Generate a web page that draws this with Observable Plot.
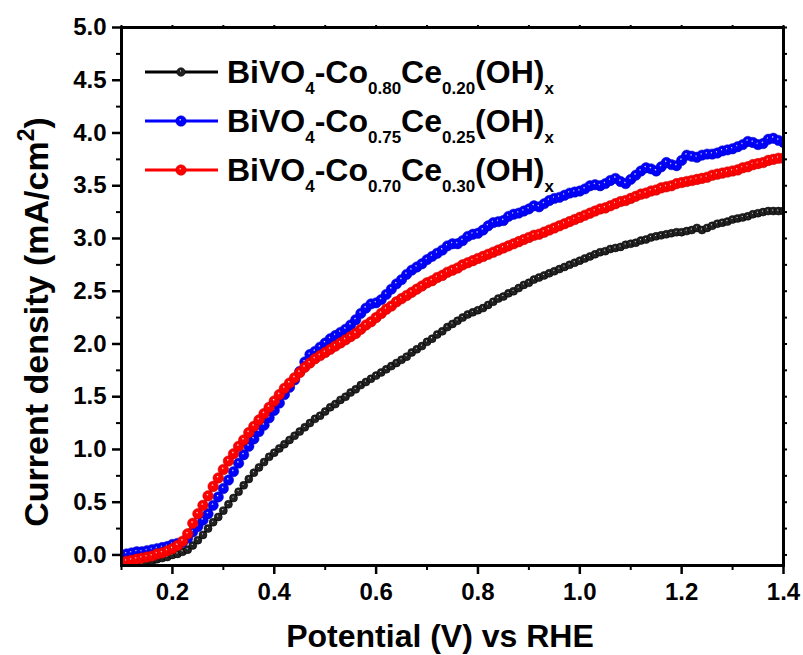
<!DOCTYPE html>
<html><head><meta charset="utf-8">
<script src="https://cdn.jsdelivr.net/npm/d3@7"></script>
<script src="https://cdn.jsdelivr.net/npm/@observablehq/plot@0.6"></script>
<style>
html,body{margin:0;padding:0;background:#fff;}
#chart svg{display:block;}
</style>
</head><body>
<div id="chart"></div>
<script>
// ---------------- data ----------------
const potential = d3.range(131).map(i => +(0.10 + i * 0.01).toFixed(2)); // 0.10 ... 1.40 V vs RHE

const coFrac = ["0.80", "0.75", "0.70"];
const ceFrac = ["0.20", "0.25", "0.30"];
const seriesColors = ["#000000", "#0000ff", "#ff0000"];

const j_Co080 = [
 -0.13,-0.12,-0.11,-0.10,-0.09,-0.07,-0.06,-0.04,-0.03,-0.02,
  0.00, 0.01, 0.03, 0.05, 0.09, 0.14, 0.19, 0.25, 0.31, 0.36,
  0.42, 0.48, 0.54, 0.60, 0.66, 0.72, 0.78, 0.83, 0.88, 0.93,
  0.97, 1.01, 1.05, 1.09, 1.13, 1.17, 1.21, 1.25, 1.29, 1.32,
  1.36, 1.40, 1.43, 1.47, 1.50, 1.54, 1.57, 1.61, 1.64, 1.67,
  1.70, 1.73, 1.76, 1.79, 1.82, 1.85, 1.88, 1.92, 1.95, 1.98,
  2.02, 2.05, 2.09, 2.12, 2.16, 2.19, 2.22, 2.25, 2.28, 2.30,
  2.32, 2.34, 2.37, 2.40, 2.43, 2.45, 2.48, 2.50, 2.53, 2.56,
  2.58, 2.61, 2.63, 2.65, 2.67, 2.69, 2.71, 2.73, 2.75, 2.77,
  2.79, 2.81, 2.83, 2.85, 2.87, 2.88, 2.90, 2.91, 2.92, 2.94,
  2.95, 2.96, 2.98, 2.99, 3.01, 3.02, 3.03, 3.04, 3.05, 3.06,
  3.06, 3.07, 3.08, 3.10, 3.08, 3.10, 3.12, 3.14, 3.15, 3.16,
  3.18, 3.19, 3.20, 3.21, 3.23, 3.24, 3.25, 3.26, 3.26, 3.26,
  3.26
];
const j_Co075 = [
  0.00, 0.01, 0.02, 0.03, 0.03, 0.04, 0.05, 0.06, 0.07, 0.08,
  0.10, 0.11, 0.12, 0.16, 0.22, 0.27, 0.33, 0.39, 0.47, 0.55,
  0.63, 0.71, 0.79, 0.87, 0.95, 1.03, 1.10, 1.17, 1.23, 1.30,
  1.37, 1.44, 1.52, 1.59, 1.66, 1.74, 1.83, 1.90, 1.93, 1.97,
  2.01, 2.05, 2.08, 2.11, 2.14, 2.18, 2.23, 2.29, 2.34, 2.38,
  2.39, 2.42, 2.47, 2.52, 2.57, 2.61, 2.66, 2.70, 2.73, 2.76,
  2.80, 2.83, 2.86, 2.89, 2.93, 2.95, 2.95, 2.98, 3.02, 3.04,
  3.05, 3.08, 3.12, 3.15, 3.16, 3.17, 3.21, 3.23, 3.24, 3.26,
  3.28, 3.31, 3.30, 3.33, 3.36, 3.38, 3.39, 3.41, 3.43, 3.44,
  3.45, 3.47, 3.50, 3.51, 3.50, 3.52, 3.55, 3.57, 3.54, 3.52,
  3.56, 3.60, 3.64, 3.67, 3.66, 3.64, 3.68, 3.72, 3.70, 3.69,
  3.74, 3.79, 3.78, 3.77, 3.79, 3.80, 3.80, 3.81, 3.83, 3.84,
  3.85, 3.87, 3.89, 3.92, 3.91, 3.89, 3.90, 3.94, 3.95, 3.93,
  3.91
];
const j_Co070 = [
 -0.07,-0.06,-0.05,-0.04,-0.03,-0.02,-0.01, 0.01, 0.02, 0.04,
  0.06, 0.09, 0.13, 0.20, 0.30, 0.39, 0.47, 0.56, 0.65, 0.73,
  0.81, 0.89, 0.96, 1.03, 1.09, 1.16, 1.22, 1.28, 1.34, 1.40,
  1.46, 1.52, 1.58, 1.63, 1.68, 1.73, 1.78, 1.82, 1.86, 1.89,
  1.92, 1.95, 1.98, 2.01, 2.04, 2.07, 2.10, 2.14, 2.18, 2.21,
  2.25, 2.29, 2.33, 2.36, 2.40, 2.43, 2.46, 2.49, 2.52, 2.55,
  2.58, 2.60, 2.63, 2.65, 2.68, 2.70, 2.72, 2.75, 2.77, 2.79,
  2.81, 2.83, 2.85, 2.87, 2.89, 2.91, 2.93, 2.95, 2.97, 2.99,
  3.01, 3.03, 3.04, 3.06, 3.08, 3.10, 3.12, 3.14, 3.16, 3.18,
  3.20, 3.22, 3.24, 3.26, 3.28, 3.29, 3.31, 3.33, 3.35, 3.36,
  3.38, 3.40, 3.42, 3.43, 3.45, 3.46, 3.48, 3.49, 3.50, 3.52,
  3.53, 3.54, 3.55, 3.56, 3.57, 3.58, 3.60, 3.61, 3.62, 3.63,
  3.64, 3.65, 3.67, 3.68, 3.70, 3.71, 3.72, 3.74, 3.75, 3.76,
  3.76
];

const xTicks = [0.2, 0.4, 0.6, 0.8, 1.0, 1.2, 1.4];
const xMinor = [0.1, 0.3, 0.5, 0.7, 0.9, 1.1, 1.3];
const yTicks = [0.0, 0.5, 1.0, 1.5, 2.0, 2.5, 3.0, 3.5, 4.0, 4.5, 5.0];
const yMinor = [0.25, 0.75, 1.25, 1.75, 2.25, 2.75, 3.25, 3.75, 4.25, 4.75];

// ------------- build table -------------
const seriesValues = [j_Co080, j_Co075, j_Co070];
const tables = seriesValues.map((vals, s) => vals.map((j, i) => ({x: potential[i], y: j, s})));
const radii = [4.0, 5.2, 5.3];
const grads = ["url(#gBlack)", "url(#gBlue)", "url(#gRed)"];
const rims = ["#000", "#0000c0", "#d00000"];

const FONT = "'Liberation Sans', Arial, Helvetica, sans-serif";

const marks = [];
tables.forEach((data, s) => {
  marks.push(Plot.line(data, {x: "x", y: "y", stroke: seriesColors[s], strokeWidth: 2.5, clip: true}));
  marks.push(Plot.dot(data, {x: "x", y: "y", r: radii[s], fill: grads[s], stroke: rims[s], strokeWidth: 0.5, clip: true}));
});

const plot = Plot.plot({
  width: 803,
  height: 655,
  marginLeft: 121,
  marginRight: 20,
  marginTop: 27,
  marginBottom: 90,
  style: {fontFamily: FONT, fontWeight: "bold", color: "#000", background: "#fff", overflow: "visible"},
  x: {domain: [0.1, 1.4], label: null},
  y: {domain: [-0.1, 5.0], label: null},
  marks: [
    ...marks,
    Plot.frame({stroke: "#000", strokeWidth: 3}),
    Plot.axisX({ticks: xTicks, tickSize: 9, tickPadding: 8, tickFormat: d3.format(".1f"), fontSize: 24, strokeWidth: 2.5, label: null}),
    Plot.axisX({ticks: xMinor, tickSize: 5, tickFormat: () => "", strokeWidth: 2, label: null}),
    Plot.axisX({anchor: "top", ticks: [...xTicks, ...xMinor], tickSize: 3, tickFormat: () => "", strokeWidth: 2, label: null}),
    Plot.axisY({ticks: yTicks, tickSize: 9, tickPadding: 6, tickFormat: d3.format(".1f"), fontSize: 24, strokeWidth: 2.5, label: null}),
    Plot.axisY({ticks: yMinor, tickSize: 5, tickFormat: () => "", strokeWidth: 2, label: null}),
    Plot.axisY({anchor: "right", ticks: [...yTicks, ...yMinor], tickSize: 3, tickFormat: () => "", strokeWidth: 2, label: null})
  ]
});

document.getElementById("chart").appendChild(plot);

// ------------- defs, labels, legend -------------
const svg = d3.select(plot);
const defs = svg.insert("defs", ":first-child");
function sphere(id, hi, mid, edge) {
  const g = defs.append("radialGradient").attr("id", id)
    .attr("cx", "0.5").attr("cy", "0.5").attr("r", "0.55")
    .attr("fx", "0.42").attr("fy", "0.36");
  g.append("stop").attr("offset", "0").attr("stop-color", hi);
  g.append("stop").attr("offset", "0.22").attr("stop-color", mid);
  g.append("stop").attr("offset", "0.8").attr("stop-color", mid);
  g.append("stop").attr("offset", "1").attr("stop-color", edge);
}
sphere("gBlack", "#f4f4f4", "#222222", "#000000");
sphere("gBlue", "#f0f0ff", "#0000ff", "#0000d0");
sphere("gRed", "#fff0f0", "#ff0000", "#d80000");

// axis titles
svg.append("text")
  .attr("x", 440).attr("y", 647)
  .attr("text-anchor", "middle")
  .attr("font-size", 32).attr("font-weight", "bold").attr("font-family", FONT)
  .attr("fill", "#000")
  .text("Potential (V) vs RHE");

const yl = svg.append("text")
  .attr("transform", "translate(48,322) rotate(-90)")
  .attr("text-anchor", "middle")
  .attr("font-size", 34).attr("font-weight", "bold").attr("font-family", FONT)
  .attr("fill", "#000");
yl.append("tspan").text("Current density (mA/cm");
yl.append("tspan").attr("font-size", 23).attr("dy", -14).text("2");
yl.append("tspan").attr("dy", 14).text(")");

// legend
const legend = svg.append("g").attr("font-family", FONT).attr("font-weight", "bold")
  .attr("fill", "#000").attr("text-anchor", "start");
const rowY = [72, 121, 170];
const legR = [4.3, 5.3, 5.3];
seriesColors.forEach((c, s) => {
  const y = rowY[s];
  legend.append("line").attr("x1", 145).attr("x2", 218).attr("y1", y).attr("y2", y)
    .attr("stroke", c).attr("stroke-width", 3);
  legend.append("circle").attr("cx", 181).attr("cy", y).attr("r", legR[s])
    .attr("fill", grads[s]).attr("stroke", rims[s]).attr("stroke-width", 0.5);
  const t = legend.append("text").attr("x", 227).attr("y", y + 11)
    .attr("font-size", 32).attr("text-anchor", "start");
  const sub = (txt) => { t.append("tspan").attr("font-size", 17).attr("dy", 11).text(txt); };
  const back = (txt) => { t.append("tspan").attr("dy", -11).text(txt); };
  t.append("tspan").text("BiVO");
  sub("4"); back("-Co");
  sub(coFrac[s]); back("Ce");
  sub(ceFrac[s]); back("(OH)");
  sub("x");
});
</script>
</body></html>
